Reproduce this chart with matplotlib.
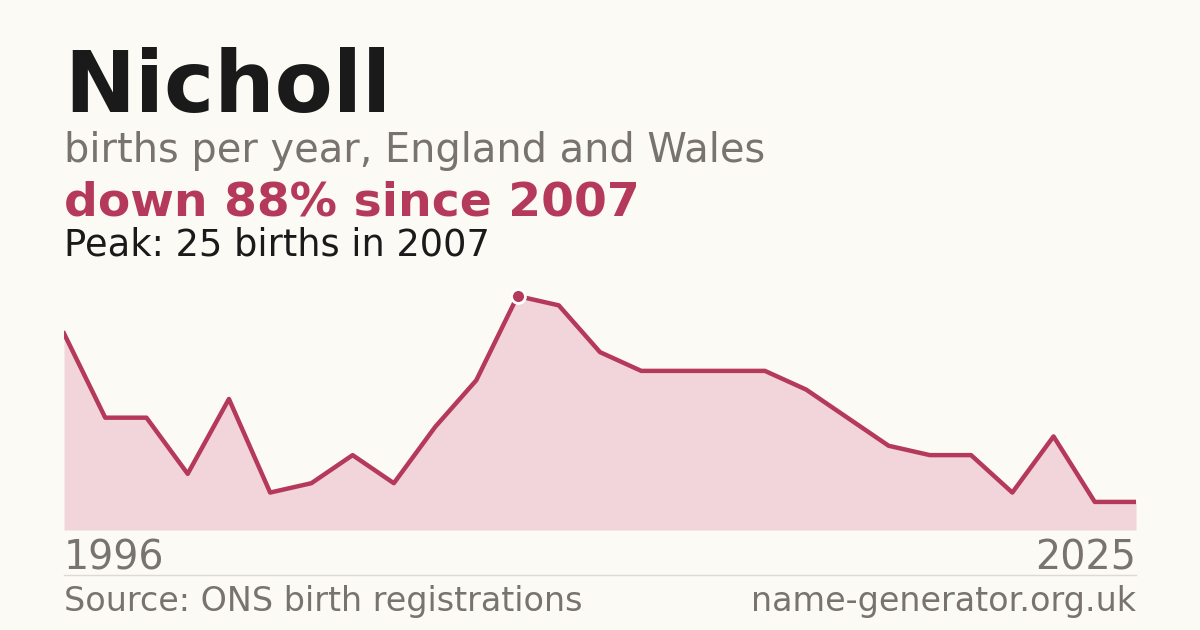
import matplotlib
matplotlib.use("Agg")
import matplotlib.pyplot as plt

births = [21,12,12,6,14,4,5,8,5,11,16,25,24,19,17,17,17,17,15,12,9,8,8,4,10,3,3]
first_year, last_year = "1996", "2025"
peak_idx = births.index(max(births))

bg = "#fbfaf5"; red = "#b5395a"; fill = "#f2d5da"; grey = "#78736e"
fig = plt.figure(figsize=(12, 6.3), dpi=100, facecolor=bg)
ax = fig.add_axes([64/1200, 100/630, 1072/1200, 250/630])
ax.set_facecolor(bg)
x = list(range(len(births)))
ax.fill_between(x, births, 0, color=fill, lw=0)
ax.plot(x, births, color=red, lw=3.2, solid_joinstyle="round")
ax.plot([peak_idx], [births[peak_idx]], "o", ms=10, color=red, mec="white", mew=2, zorder=5)
ax.set_xlim(0, len(births)-1)
ax.set_ylim(0, 25*250/234)
ax.axis("off")

fig.text(64/1200, 1-112/630, "Nicholl", fontsize=61, fontweight="bold", color="#1a1a1a")
fig.text(64/1200, 1-162/630, "births per year, England and Wales", fontsize=28.7, color=grey)
fig.text(64/1200, 1-215/630, "down 88% since 2007", fontsize=34, fontweight="bold", color=red)
fig.text(64/1200, 1-255/630, "Peak: 25 births in 2007", fontsize=26.5, color="#1a1a1a")
fig.text(64/1200, 1-569/630, first_year, fontsize=28.5, color=grey)
fig.text(1136/1200, 1-569/630, last_year, fontsize=28.5, color=grey, ha="right")
fig.add_artist(plt.Line2D([64/1200, 1136/1200], [1-575/630]*2, color="#dddad3", lw=1))
fig.text(64/1200, 1-611/630, "Source: ONS birth registrations", fontsize=24, color=grey)
fig.text(1136/1200, 1-611/630, "name-generator.org.uk", fontsize=24, color=grey, ha="right")
fig.savefig("out.png", facecolor=bg)
